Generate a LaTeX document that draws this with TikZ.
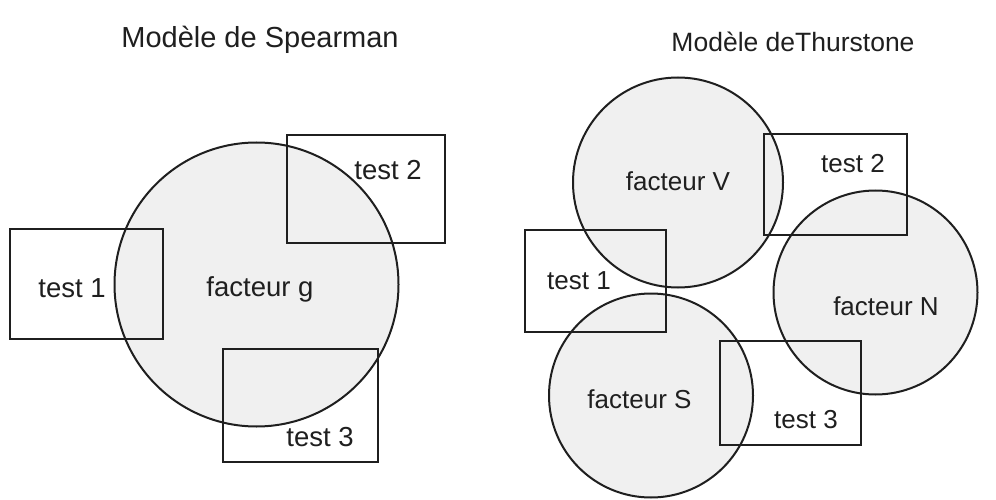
\documentclass[tikz,border=0pt]{standalone}
\usepackage{fontspec}
\setmainfont{Liberation Sans}
\begin{document}
\begin{tikzpicture}[x=1pt,y=-1pt,
  ink/.style={draw=black!88, line width=2pt},
  factor/.style={ink, circle, fill=black!6, inner sep=0pt},
  testbox/.style={ink, rectangle, inner sep=0pt},
  lblA/.style={anchor=base, inner sep=0pt, text=black!88, font=\fontsize{27.5}{30}\selectfont},
  lblB/.style={anchor=base, inner sep=0pt, text=black!88, font=\fontsize{26}{30}\selectfont},
  titleA/.style={anchor=base, inner sep=0pt, text=black!88, font=\fontsize{29}{32}\selectfont},
  titleB/.style={anchor=base, inner sep=0pt, text=black!88, font=\fontsize{26.5}{30}\selectfont}]
\useasboundingbox[fill=white] (0,0) rectangle (996,500);

% ---- Spearman: one general factor ----
\node[titleA] (tS) at (260,48) {Modèle de Spearman};
\node[factor, minimum size=284pt] (g) at (256.5,284.5) {};
\node[testbox, minimum width=153pt, minimum height=110pt] (s1) at (86.5,284) {};
\node[testbox, minimum width=158pt, minimum height=108pt] (s2) at (366,189) {};
\node[testbox, minimum width=155pt, minimum height=113pt] (s3) at (300.5,405.5) {};
\node[lblA] (lg) at (260,296) {facteur g};
\node[lblA] (ls1) at (72,297) {test 1};
\node[lblA] (ls2) at (388,179) {test 2};
\node[lblA] (ls3) at (320,446) {test 3};

% ---- Thurstone: several group factors ----
\node[titleB] (tT) at (793,52) {Modèle deThurstone};
\node[factor, minimum size=210pt] (fv) at (678,182.5) {};
\node[factor, minimum size=204pt] (fn) at (875.5,292.5) {};
\node[factor, minimum size=204pt] (fs) at (651,395.5) {};
\node[testbox, minimum width=141pt, minimum height=102pt] (t1) at (595.5,281) {};
\node[testbox, minimum width=143pt, minimum height=101pt] (t2) at (835.5,184.5) {};
\node[testbox, minimum width=141pt, minimum height=104pt] (t3) at (790.5,393) {};
\node[lblB] (lv) at (678,190) {facteur V};
\node[lblB] (ln) at (886,315) {facteur N};
\node[lblB] (ls) at (639.5,408) {facteur S};
\node[lblB] (lt1) at (579,289) {test 1};
\node[lblB] (lt2) at (853,172) {test 2};
\node[lblB] (lt3) at (806,428) {test 3};
\end{tikzpicture}
\end{document}
